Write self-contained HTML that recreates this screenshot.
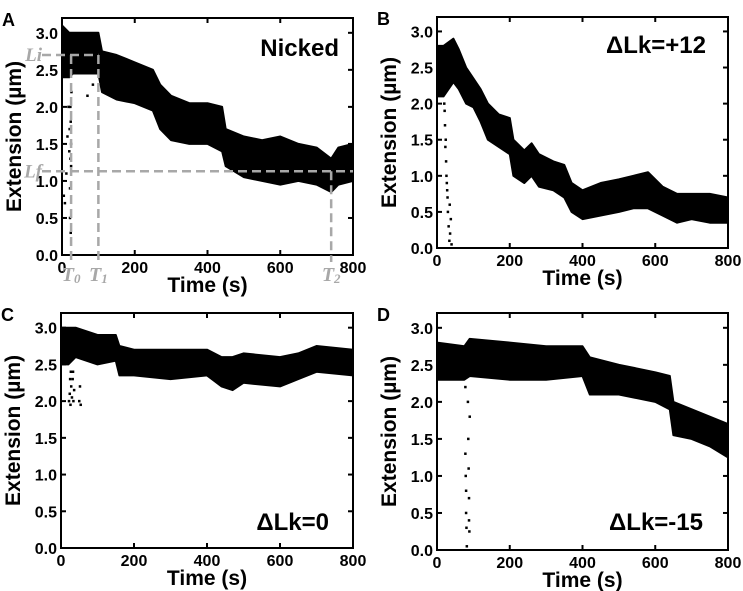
<!DOCTYPE html>
<html><head><meta charset="utf-8">
<style>
html,body{margin:0;padding:0;background:#fff;}
svg{display:block;font-family:"Liberation Sans",Arial,sans-serif;font-weight:bold;}
</style></head>
<body>
<svg id="chart" width="743" height="591" viewBox="0 0 743 591" xmlns="http://www.w3.org/2000/svg"></svg>
<script>
// ---- data (time s, extension band lower/upper in µm) ----
const xTicks = [0, 200, 400, 600, 800];
const yTicks = [0.0, 0.5, 1.0, 1.5, 2.0, 2.5, 3.0];

const aTime = [0, 20, 30, 60, 100, 110, 150, 200, 250, 270, 300, 350, 400, 440, 450, 500, 550, 600, 650, 700, 740, 760, 800];
const aLow  = [2.4, 2.4, 2.45, 2.45, 2.45, 2.2, 2.1, 2.05, 1.95, 1.7, 1.55, 1.5, 1.5, 1.4, 1.2, 1.05, 1.0, 0.95, 1.0, 0.95, 0.85, 0.95, 1.0];
const aHigh = [3.1, 3.0, 3.0, 3.0, 3.0, 2.75, 2.7, 2.6, 2.5, 2.3, 2.15, 2.05, 2.05, 2.0, 1.7, 1.6, 1.55, 1.6, 1.5, 1.45, 1.3, 1.45, 1.5];
const aOutT = [5, 8, 12, 15, 18, 20, 22, 22, 24, 24, 25, 26, 70, 85, 21, 23, 23, 25];
const aOutV = [0.8, 0.7, 1.1, 1.6, 2.0, 1.4, 0.9, 0.5, 1.8, 0.3, 1.2, 2.2, 2.15, 2.3, 1.7, 1.3, 2.0, 1.5];

const bTime = [0, 18, 45, 60, 80, 100, 120, 140, 170, 200, 210, 240, 260, 280, 320, 350, 370, 400, 450, 500, 540, 580, 620, 660, 700, 750, 800];
const bLow  = [2.1, 2.1, 2.3, 2.2, 2.0, 1.95, 1.75, 1.5, 1.4, 1.3, 1.0, 0.9, 1.0, 0.85, 0.8, 0.7, 0.5, 0.4, 0.45, 0.5, 0.55, 0.55, 0.45, 0.35, 0.4, 0.35, 0.35];
const bHigh = [2.8, 2.8, 2.9, 2.75, 2.5, 2.35, 2.2, 2.0, 1.85, 1.8, 1.5, 1.35, 1.45, 1.3, 1.2, 1.15, 0.9, 0.8, 0.9, 0.95, 1.0, 1.05, 0.85, 0.75, 0.75, 0.75, 0.7];
const bOutT = [20, 22, 24, 25, 26, 28, 30, 32, 34, 35, 36, 38, 40, 42, 21, 23, 27, 29];
const bOutV = [2.0, 1.7, 1.5, 1.2, 1.0, 0.8, 0.5, 0.3, 0.1, 0.6, 0.2, 0.4, 0.05, 2.5, 1.9, 1.4, 0.9, 0.7];

const cTime = [0, 20, 40, 100, 150, 160, 200, 300, 400, 440, 470, 500, 600, 650, 700, 800];
const cLow  = [2.5, 2.5, 2.6, 2.5, 2.55, 2.35, 2.35, 2.3, 2.35, 2.2, 2.15, 2.25, 2.2, 2.3, 2.4, 2.35];
const cHigh = [3.0, 3.0, 3.0, 2.9, 2.9, 2.75, 2.7, 2.7, 2.7, 2.6, 2.6, 2.65, 2.6, 2.65, 2.75, 2.7];
const cOutT = [22, 24, 26, 28, 30, 32, 34, 36, 50, 52, 54, 25, 27, 33];
const cOutV = [2.0, 2.1, 1.95, 2.2, 2.05, 2.3, 2.0, 2.15, 2.0, 2.2, 1.95, 2.3, 2.4, 2.4];

const dTime = [0, 75, 90, 200, 300, 400, 420, 500, 600, 640, 650, 700, 750, 800];
const dLow  = [2.3, 2.3, 2.35, 2.3, 2.3, 2.35, 2.1, 2.1, 2.0, 1.9, 1.55, 1.5, 1.4, 1.25];
const dHigh = [2.8, 2.75, 2.85, 2.8, 2.75, 2.75, 2.6, 2.5, 2.4, 2.35, 2.0, 1.9, 1.8, 1.7];
const dOutT = [78, 78, 79, 80, 80, 81, 82, 85, 86, 87, 88, 88, 89, 90];
const dOutV = [2.2, 1.3, 1.0, 0.8, 0.5, 0.3, 0.05, 2.0, 1.5, 1.1, 0.7, 0.4, 0.25, 1.8];

const NS = "http://www.w3.org/2000/svg";
const svg = document.getElementById("chart");
function mk(tag, attrs, parent) {
  const el = document.createElementNS(NS, tag);
  for (const k in attrs) el.setAttribute(k, attrs[k]);
  (parent || svg).appendChild(el);
  return el;
}

function panel(p) {
  const g = mk("g", {});
  
  
  const xS = t => p.l + (t / 800) * (p.r - p.l);
  const yS = v => p.b - (v / 3.2) * (p.b - p.t);

  let d = "";
  p.time.forEach((t, i) => { d += (i ? "L" : "M") + xS(t).toFixed(1) + "," + yS(p.high[i]).toFixed(1); });
  for (let i = p.time.length - 1; i >= 0; i--) d += "L" + xS(p.time[i]).toFixed(1) + "," + yS(p.low[i]).toFixed(1);
  const band = mk("path", { d: d + "Z", fill: "#000", stroke: "#000", "stroke-width": 2, "stroke-linejoin": "round" }, g);
  
  
  p.outT.forEach((t, i) => {
    const c = mk("rect", { x: xS(t) - 1.25, y: yS(p.outV[i]) - 1.25, width: 2.5, height: 2.5, fill: "#000" }, g);
    
    
  });

  const fr = mk("rect", { x: p.l, y: p.t, width: p.r - p.l, height: p.b - p.t, fill: "none", stroke: "#000", "stroke-width": 2 }, g);
  
  

  xTicks.forEach(t => {
    const x = xS(t);
    mk("line", { x1: x, x2: x, y1: p.b, y2: p.b - 5, stroke: "#000", "stroke-width": 2 }, g);
    mk("line", { x1: x, x2: x, y1: p.t, y2: p.t + 5, stroke: "#000", "stroke-width": 2 }, g);
    const tx = mk("text", { x: x, y: p.b + 18, "text-anchor": "middle", "font-size": 16, fill: "#000" }, g);
    tx.textContent = String(t);
    
    
  });
  yTicks.forEach(v => {
    const y = yS(v);
    mk("line", { x1: p.l, x2: p.l + 5, y1: y, y2: y, stroke: "#000", "stroke-width": 2 }, g);
    mk("line", { x1: p.r, x2: p.r - 5, y1: y, y2: y, stroke: "#000", "stroke-width": 2 }, g);
    const ty = mk("text", { x: p.l - 4, y: y + 6, "text-anchor": "end", "font-size": 16, fill: "#000" }, g);
    ty.textContent = v.toFixed(1);
    
    
  });

  const xt = mk("text", { x: (p.l + p.r) / 2, y: p.b + 37, "text-anchor": "middle", "font-size": 21, fill: "#000" }, g);
  xt.textContent = "Time (s)";
  
  
  const cy = (p.t + p.b) / 2;
  const yt = mk("text", { x: p.l - 41, y: cy, "text-anchor": "middle", "font-size": 21, fill: "#000", transform: "rotate(-90 " + (p.l - 41) + " " + cy + ")" }, g);
  yt.textContent = "Extension (µm)";
  
  

  const pl = mk("text", { x: p.l - 60, y: p.t + 8, "font-size": 18, fill: "#000" }, g);
  pl.textContent = p.letter;
  
  

  const an = mk("text", { x: p.annX, y: p.annY, "text-anchor": "end", "font-size": 24, fill: "#000" }, g);
  an.textContent = p.ann;
  
  
  return { xS, yS, g };
}

const A = panel({ letter: "A", l: 62, r: 353, t: 18, b: 255, time: aTime, low: aLow, high: aHigh, outT: aOutT, outV: aOutV, ann: "Nicked", annX: 339, annY: 56 });
panel({ letter: "B", l: 437, r: 728, t: 17, b: 248, time: bTime, low: bLow, high: bHigh, outT: bOutT, outV: bOutV, ann: "ΔLk=+12", annX: 706, annY: 53 });
panel({ letter: "C", l: 61, r: 353, t: 313, b: 548, time: cTime, low: cLow, high: cHigh, outT: cOutT, outV: cOutV, ann: "ΔLk=0", annX: 329, annY: 530 });
panel({ letter: "D", l: 437, r: 728, t: 313, b: 550, time: dTime, low: dLow, high: dHigh, outT: dOutT, outV: dOutV, ann: "ΔLk=-15", annX: 703, annY: 530 });

// ---- annotations for panel A ----
const markT = [25, 100, 740];
const markLabels = ["T0", "T1", "T2"];
const Li = 2.7, Lf = 1.13;
const gray = "#a8a8a8";
function dash(x1, y1, x2, y2, name) {
  const l = mk("line", { x1, y1, x2, y2, stroke: gray, "stroke-width": 2.5, "stroke-dasharray": "9,5" }, A.g);
  
  
}
dash(42, A.yS(Li), A.xS(markT[1]), A.yS(Li), 'li-line');
dash(42, A.yS(Lf), A.xS(800), A.yS(Lf), 'lf-line');
dash(A.xS(markT[0]), A.yS(Li), A.xS(markT[0]), 262, 't0-line');
dash(A.xS(markT[1]), A.yS(Li), A.xS(markT[1]), 262, 't1-line');
dash(A.xS(markT[2]), A.yS(Lf), A.xS(markT[2]), 262, 't2-line');
markT.forEach((t, i) => {
  const tx = mk("text", { x: A.xS(t), y: 281, "text-anchor": "middle", "font-size": 20, fill: gray, "font-style": "italic", "font-family": "Liberation Serif, serif" }, A.g);
  tx.textContent = markLabels[i][0];
  const s = mk("tspan", { "font-size": 13, dy: 2 }, tx);
  s.textContent = markLabels[i][1];
  
  
});
[["Li", Li], ["Lf", Lf]].forEach(([s, v]) => {
  const tx = mk("text", { x: 42, y: A.yS(v) + 6, "text-anchor": "end", "font-size": 19, fill: gray, "font-style": "italic", "font-family": "Liberation Serif, serif" }, A.g);
  tx.textContent = s;
  
  
});
</script>
</body></html>
